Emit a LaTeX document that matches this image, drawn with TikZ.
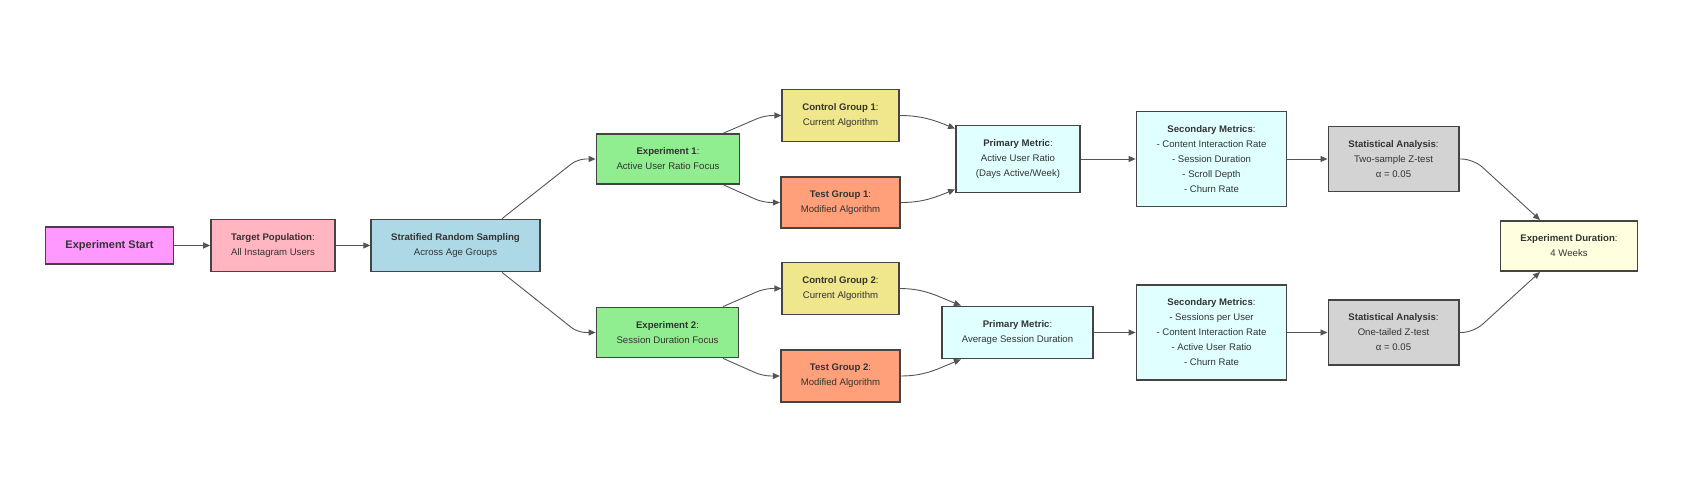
\documentclass[tikz,border=0pt]{standalone}
\usepackage{fontspec}
\setmainfont{Liberation Sans}
\usetikzlibrary{positioning, arrows.meta}

\definecolor{startcol}{HTML}{FF99FF}
\definecolor{popcol}{HTML}{FFB6C1}
\definecolor{samplecol}{HTML}{ADD8E6}
\definecolor{expcol}{HTML}{90EE90}
\definecolor{ctrlcol}{HTML}{F0E68C}
\definecolor{testcol}{HTML}{FFA07A}
\definecolor{metriccol}{HTML}{E0FFFF}
\definecolor{statcol}{HTML}{D3D3D3}
\definecolor{durcol}{HTML}{FFFFE0}
\definecolor{edgecol}{HTML}{555555}
\definecolor{bordercol}{HTML}{444444}
\definecolor{textcol}{HTML}{333333}

\begin{document}
\begin{tikzpicture}[on grid, >={Stealth[inset=0pt,length=7pt,width=6pt]}]
    % Styles
    \tikzstyle{block} = [rectangle, draw=bordercol, line width=1.8pt, text=textcol,
    align=center, inner xsep=20pt, inner ysep=14pt, font=\fontsize{9.6pt}{15pt}\selectfont]
    \tikzstyle{line} = [draw=edgecol, line width=0.9pt, ->]

    \useasboundingbox (-109.5pt,245.5pt) rectangle (1577.5pt,-249.5pt);

    % Nodes
    \node [block, fill=startcol, inner ysep=13pt, font=\fontsize{11pt}{13pt}\selectfont\bfseries] (start) {Experiment Start};
    \node [block, fill=popcol, right=163.5pt of start] (population) {\textbf{Target Population}:\\All Instagram Users};
    \node [block, fill=samplecol, right=182.5pt of population] (sampling) {\textbf{Stratified Random Sampling}\\Across Age Groups};

    \node [block, fill=expcol, above right=86.5pt and 212.5pt of sampling] (exp1) {\textbf{Experiment 1}:\\Active User Ratio Focus};
    \node [block, fill=expcol, below right=87pt and 212pt of sampling] (exp2) {\textbf{Experiment 2}:\\Session Duration Focus};

    \node [block, fill=ctrlcol, above right=43.5pt and 172.5pt of exp1] (control1) {\textbf{Control Group 1}:\\Current Algorithm};
    \node [block, fill=testcol, below right=43.5pt and 172.5pt of exp1] (test1) {\textbf{Test Group 1}:\\Modified Algorithm};
    \node [block, fill=ctrlcol, above right=44pt and 173pt of exp2] (control2) {\textbf{Control Group 2}:\\Current Algorithm};
    \node [block, fill=testcol, below right=43.5pt and 173pt of exp2] (test2) {\textbf{Test Group 2}:\\Modified Algorithm};

    \node [block, fill=metriccol, right=350pt of exp1] (primary1) {\textbf{Primary Metric}:\\Active User Ratio\\(Days Active/Week)};
    \node [block, fill=metriccol, right=350pt of exp2] (primary2) {\textbf{Primary Metric}:\\Average Session Duration};

    \node [block, fill=metriccol, right=193.5pt of primary1] (secondary1) {\textbf{Secondary Metrics}:\\- Content Interaction Rate\\- Session Duration\\- Scroll Depth\\- Churn Rate};
    \node [block, fill=metriccol, right=194pt of primary2] (secondary2) {\textbf{Secondary Metrics}:\\- Sessions per User\\- Content Interaction Rate\\- Active User Ratio\\- Churn Rate};

    \node [block, fill=statcol, right=182pt of secondary1] (stats1) {\textbf{Statistical Analysis}:\\Two-sample Z-test\\α = 0.05};
    \node [block, fill=statcol, right=182pt of secondary2] (stats2) {\textbf{Statistical Analysis}:\\One-tailed Z-test\\α = 0.05};

    \node [block, fill=durcol, below right=87pt and 175.5pt of stats1] (duration) {\textbf{Experiment Duration}:\\4 Weeks};

    % Arrows
    \draw [line] (start) -- (population);
    \draw [line] (population) -- (sampling);
    \draw [line, rounded corners=8pt] (sampling.30) -- ([xshift=-18pt]exp1.west) -- (exp1.west);
    \draw [line, rounded corners=8pt] (sampling.-30) -- ([xshift=-18pt]exp2.west) -- (exp2.west);
    \draw [line, rounded corners=8pt] (exp1.25) -- ([xshift=-17pt]control1.west) -- (control1.west);
    \draw [line, rounded corners=8pt] (exp1.-25) -- ([xshift=-17pt]test1.west) -- (test1.west);
    \draw [line, rounded corners=8pt] (exp2.25) -- ([xshift=-17pt]control2.west) -- (control2.west);
    \draw [line, rounded corners=8pt] (exp2.-25) -- ([xshift=-17pt]test2.west) -- (test2.west);
    \draw [line] (control1.east) to[out=0, in=158] ([yshift=-4pt]primary1.north west);
    \draw [line] (test1.east) to[out=0, in=202] ([yshift=4pt]primary1.south west);
    \draw [line] (control2.east) to[out=0, in=158] ([xshift=20pt]primary2.north west);
    \draw [line] (test2.east) to[out=0, in=202] ([xshift=20pt]primary2.south west);
    \draw [line] (primary1) -- (secondary1);
    \draw [line] (primary2) -- (secondary2);
    \draw [line] (secondary1) -- (stats1);
    \draw [line] (secondary2) -- (stats2);
    \draw [line, rounded corners=12pt] (stats1.east) -- ++(14pt,0) -- ([xshift=-29pt]duration.north);
    \draw [line, rounded corners=12pt] (stats2.east) -- ++(14pt,0) -- ([xshift=-29pt]duration.south);
\end{tikzpicture}
\end{document}
